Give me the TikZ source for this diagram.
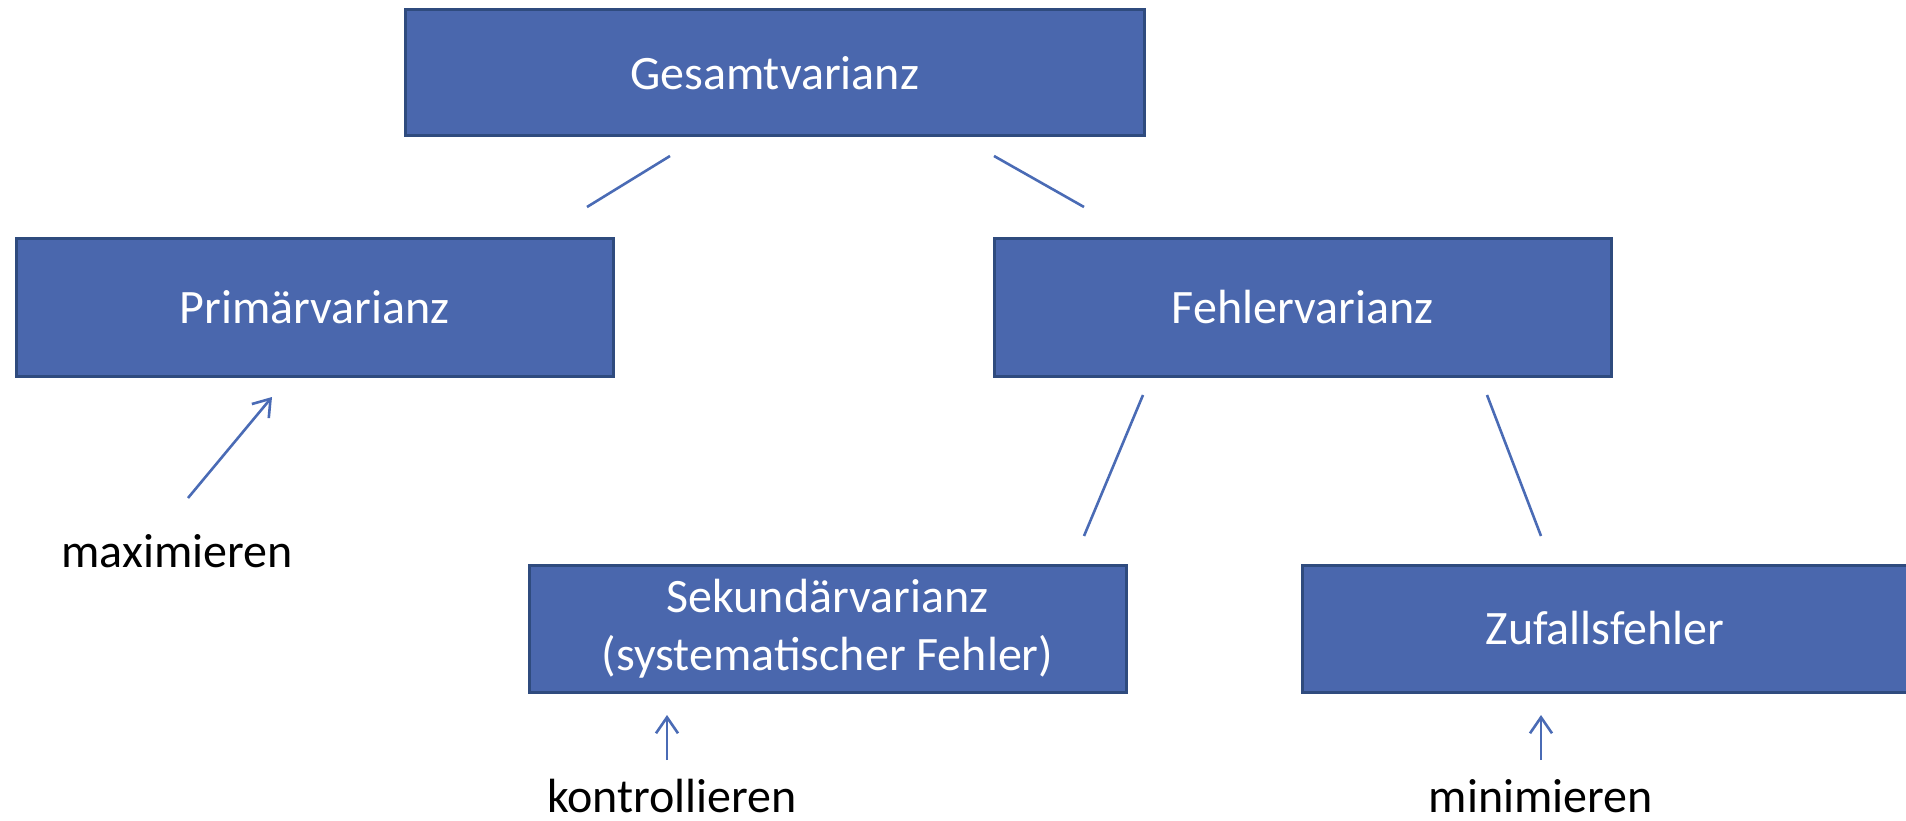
\documentclass[tikz,border=0pt]{standalone}
\usepackage{fontspec}
\setmainfont{Carlito}
\usetikzlibrary{arrows.meta}
\definecolor{boxfill}{HTML}{4A67AD}
\definecolor{boxline}{HTML}{2F4B7E}
\definecolor{conn}{HTML}{4A6BB5}
\begin{document}
\begin{tikzpicture}[x=1pt,y=-1pt,
  vbox/.style={draw=boxline,line width=3pt,fill=boxfill,text=white,
    font=\fontsize{48}{58}\selectfont,align=center,inner sep=0pt,rectangle},
  conline/.style={draw=conn,line width=2.6pt},
  conarrow/.style={draw=conn,line width=2.6pt,-{Straight Barb[length=16pt,width=22pt,line width=2.6pt]}},
  lbl/.style={font=\fontsize{48}{58}\selectfont,text=black,inner sep=0pt}]
\useasboundingbox (0,0) rectangle (1906,821);
\node[vbox,minimum width=739pt,minimum height=126pt] (G) at (774.5,73) {Gesamtvarianz};
\node[vbox,minimum width=597pt,minimum height=137pt] (P) at (314.5,307.5) {Primärvarianz};
\node[vbox,minimum width=617pt,minimum height=137pt] (F) at (1302.5,307.5) {Fehlervarianz};
\node[vbox,minimum width=597pt,minimum height=127pt] (S) at (827.5,628.5) {Sekundärvarianz\\(systematischer Fehler)};
\node[vbox,minimum width=606pt,minimum height=127pt] (Z) at (1605,628.5) {Zufallsfehler};
\node[lbl] (max) at (177,551) {maximieren};
\node[lbl] (kon) at (672,796) {kontrollieren};
\node[lbl] (min) at (1541,796) {minimieren};
\coordinate (g1) at (670,156); \coordinate (p1) at (587,207);
\coordinate (g2) at (994,156); \coordinate (f1) at (1084,207);
\coordinate (f2) at (1143,395); \coordinate (s1) at (1084,536);
\coordinate (f3) at (1487,395); \coordinate (z1) at (1541,536);
\coordinate (a1s) at (188,498); \coordinate (a1e) at (272,397);
\coordinate (a2s) at (667,760); \coordinate (a2e) at (667,715);
\coordinate (a3s) at (1541,760); \coordinate (a3e) at (1541,715);
\draw[conline] (g1) -- (p1);
\draw[conline] (g2) -- (f1);
\draw[conline] (f2) -- (s1);
\draw[conline] (f3) -- (z1);
\draw[conarrow] (a1s) -- (a1e);
\draw[conarrow] (a2s) -- (a2e);
\draw[conarrow] (a3s) -- (a3e);
\end{tikzpicture}
\end{document}
